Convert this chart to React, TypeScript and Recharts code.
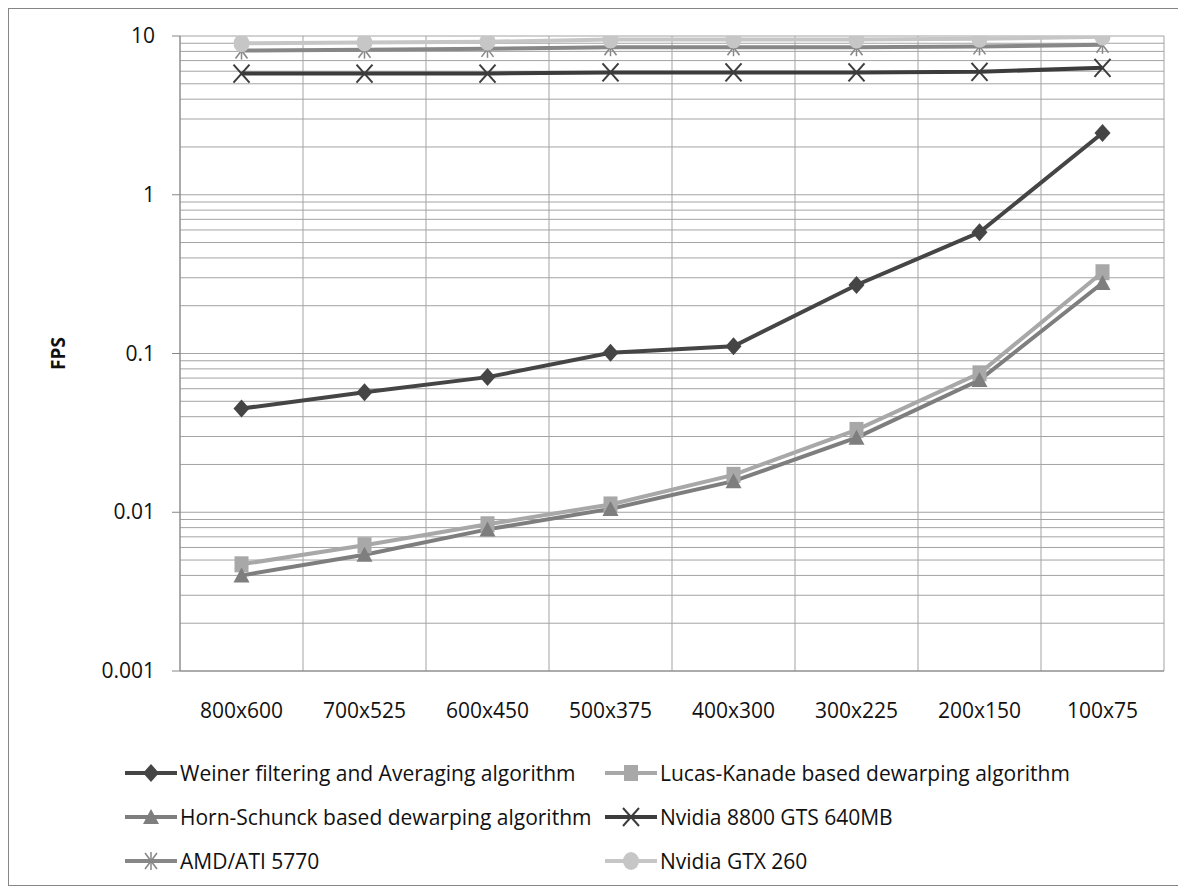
import React from 'react';
import { CartesianGrid, Line, LineChart, XAxis, YAxis } from 'recharts';

const categories = ['800x600', '700x525', '600x450', '500x375', '400x300', '300x225', '200x150', '100x75'];
const weiner = [0.045, 0.057, 0.071, 0.101, 0.111, 0.27, 0.58, 2.45];
const lucas = [0.0047, 0.0062, 0.0084, 0.0112, 0.0172, 0.033, 0.075, 0.325];
const horn = [0.004, 0.0054, 0.0078, 0.0105, 0.0157, 0.0295, 0.068, 0.278];
const nv8800 = [5.8, 5.8, 5.8, 5.9, 5.9, 5.9, 5.95, 6.3];
const amd = [8.1, 8.2, 8.3, 8.5, 8.5, 8.5, 8.6, 8.8];
const gtx = [9.0, 9.1, 9.2, 9.5, 9.5, 9.5, 9.6, 9.9];

const decades = [0.001, 0.01, 0.1, 1, 10];
const decadeLabels = ['0.001', '0.01', '0.1', '1', '10'];
const minorSteps = [2, 3, 4, 5, 6, 7, 8, 9];
const boundaries = [0, 1, 2, 3, 4, 5, 6, 7, 8];
const centers = [0.5, 1.5, 2.5, 3.5, 4.5, 5.5, 6.5, 7.5];

const yTicks: number[] = [];
decades.forEach((d, i) => {
  yTicks.push(d);
  if (i < decades.length - 1) minorSteps.forEach((m) => yTicks.push(Number((m * d).toPrecision(3))));
});

const data = categories.map((name, i) => ({
  name,
  pos: centers[i],
  weiner: weiner[i],
  lucas: lucas[i],
  horn: horn[i],
  nv8800: nv8800[i],
  amd: amd[i],
  gtx: gtx[i],
}));

type Shape = 'diamond' | 'square' | 'triangle' | 'x' | 'star' | 'circle';

const series: { key: string; name: string; color: string; shape: Shape }[] = [
  { key: 'weiner', name: 'Weiner filtering and Averaging algorithm', color: '#454545', shape: 'diamond' },
  { key: 'lucas', name: 'Lucas-Kanade based dewarping algorithm', color: '#a8a8a8', shape: 'square' },
  { key: 'horn', name: 'Horn-Schunck based dewarping algorithm', color: '#7e7e7e', shape: 'triangle' },
  { key: 'nv8800', name: 'Nvidia 8800 GTS 640MB', color: '#3c3c3c', shape: 'x' },
  { key: 'amd', name: 'AMD/ATI 5770', color: '#878787', shape: 'star' },
  { key: 'gtx', name: 'Nvidia GTX 260', color: '#c6c6c6', shape: 'circle' },
];

function Marker({ cx, cy, shape, color }: { cx: number; cy: number; shape: Shape; color: string }) {
  switch (shape) {
    case 'diamond':
      return <polygon points={`${cx},${cy - 9} ${cx + 8},${cy} ${cx},${cy + 9} ${cx - 8},${cy}`} fill={color} />;
    case 'square':
      return <rect x={cx - 7} y={cy - 8} width={14} height={16} fill={color} />;
    case 'triangle':
      return <polygon points={`${cx},${cy - 8} ${cx + 8},${cy + 7} ${cx - 8},${cy + 7}`} fill={color} />;
    case 'x':
      return (
        <g stroke={color} strokeWidth={2}>
          <line x1={cx - 8} y1={cy - 9} x2={cx + 8} y2={cy + 9} />
          <line x1={cx - 8} y1={cy + 9} x2={cx + 8} y2={cy - 9} />
        </g>
      );
    case 'star':
      return (
        <g stroke={color} strokeWidth={1.5}>
          <line x1={cx - 6} y1={cy - 8} x2={cx + 6} y2={cy + 8} />
          <line x1={cx - 6} y1={cy + 8} x2={cx + 6} y2={cy - 8} />
          <line x1={cx} y1={cy - 9} x2={cx} y2={cy + 9} />
        </g>
      );
    default:
      return <ellipse cx={cx} cy={cy} rx={8} ry={9} fill={color} />;
  }
}

const makeDot = (shape: Shape, color: string) => (props: any) => {
  const { cx, cy, index } = props;
  if (cx == null || cy == null) return <g key={`d-${index}`} />;
  return (
    <g key={`d-${index}`}>
      <Marker cx={cx} cy={cy} shape={shape} color={color} />
    </g>
  );
};

const font = '"Open Sans", sans-serif';

const YTick = (props: any) => {
  const { x, y, payload } = props;
  const idx = decades.indexOf(payload.value);
  if (idx < 0) return <g />;
  return (
    <g>
      <line x1={x - 8} y1={y} x2={x} y2={y} stroke="#868686" />
      <text x={x - 25} y={y} dy={7} textAnchor="end" fontSize={21} fontFamily={font} fill="#111">
        {decadeLabels[idx]}
      </text>
    </g>
  );
};

const FpsLabel = (props: any) => {
  const { viewBox } = props;
  const cx = 49;
  const cy = viewBox.y + viewBox.height / 2;
  return (
    <text x={cx} y={cy} transform={`rotate(-90 ${cx} ${cy})`} textAnchor="middle" dy={7} fontSize={19} fontWeight="bold" fontFamily={font} fill="#111">
      FPS
    </text>
  );
};

function LegendItem({ s }: { s: (typeof series)[number] }) {
  return (
    <div style={{ display: 'flex', alignItems: 'center', height: 44 }}>
      <svg width={52} height={22} style={{ marginRight: 3 }}>
        <line x1={0} y1={11} x2={52} y2={11} stroke={s.color} strokeWidth={4} />
        <Marker cx={26} cy={11} shape={s.shape} color={s.color} />
      </svg>
      <span style={{ fontSize: 21, fontFamily: font, color: '#111', whiteSpace: 'nowrap' }}>{s.name}</span>
    </div>
  );
}

export default function App() {
  return (
    <div
      style={{
        position: 'relative',
        width: 1172,
        height: 878,
        border: '1px solid #868686',
        boxSizing: 'border-box',
        background: '#fff',
      }}
    >
      <LineChart width={1170} height={876} data={data} margin={{ top: 27, right: 15, left: 0, bottom: 176 }}>
        <CartesianGrid xAxisId="grid" stroke="#a3a3a3" strokeWidth={1} />
        <XAxis
          xAxisId="grid"
          orientation="top"
          height={0}
          dataKey="pos"
          type="number"
          domain={[0, 8]}
          ticks={boundaries}
          hide
        />
        <XAxis
          xAxisId="lab"
          dataKey="pos"
          type="number"
          domain={[0, 8]}
          ticks={centers}
          interval={0}
          tickFormatter={(v: number) => categories[Math.floor(v)]}
          height={38}
          axisLine={{ stroke: '#868686' }}
          tickLine={false}
          tickSize={0}
          tickMargin={32}
          tick={{ fontSize: 21, fontFamily: font, fill: '#111' }}
        />
        <YAxis
          scale="log"
          type="number"
          domain={[0.001, 10]}
          ticks={yTicks}
          interval={0}
          allowDataOverflow
          width={171}
          axisLine={{ stroke: '#868686' }}
          tickLine={false}
          tickSize={0}
          tickMargin={0}
          tick={<YTick />}
          label={<FpsLabel />}
        />
        {series.map((s) => (
          <Line
            key={s.key}
            xAxisId="lab"
            dataKey={s.key}
            name={s.name}
            type="linear"
            stroke={s.color}
            strokeWidth={4}
            dot={makeDot(s.shape, s.color)}
            activeDot={false}
            isAnimationActive={false}
          />
        ))}
      </LineChart>
      <div style={{ position: 'absolute', left: 116, top: 742, display: 'grid', gridTemplateColumns: '480px auto' }}>
        {series.map((s) => (
          <LegendItem key={s.key} s={s} />
        ))}
      </div>
    </div>
  );
}
